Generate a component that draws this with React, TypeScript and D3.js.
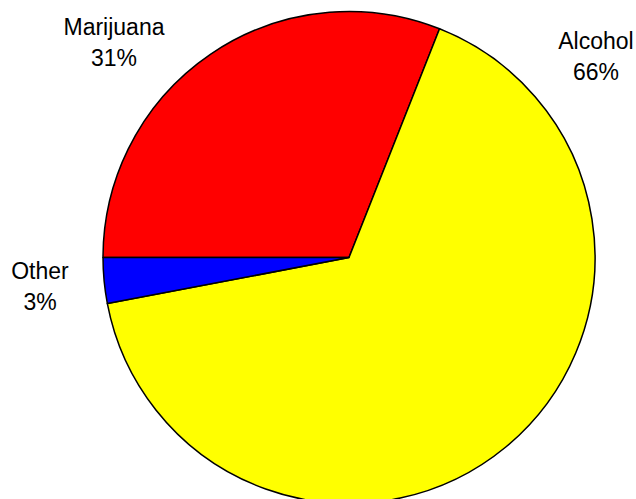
import React from "react";
import * as d3 from "d3";

const categories = ["Marijuana", "Alcohol", "Other"];
const values = [31, 66, 3];
const colors = ["#ff0000", "#ffff00", "#0000ff"];
const labels = ["31%", "66%", "3%"];

const W = 636;
const H = 499;
const cx = 349;
const cy = 257.5;
const R = 246;

// label anchor positions (center x, baseline y of first line)
const labelPos: [number, number][] = [
  [114, 35],
  [596, 49],
  [40, 279],
];

export default function App() {
  const pie = d3
    .pie<number>()
    .sort(null)
    .startAngle(-Math.PI / 2)
    .endAngle((3 * Math.PI) / 2)
    .value((d) => d);
  const arcs = pie(values);
  const arc = d3.arc<d3.PieArcDatum<number>>().innerRadius(0).outerRadius(R);
  return (
    <svg
      width={W}
      height={H}
      style={{ position: "absolute", left: 0, top: 0, background: "#fff" }}
    >
      <g transform={`translate(${cx},${cy})`}>
        {arcs.map((a, i) => (
          <path
            key={categories[i]}
            d={arc(a) || ""}
            fill={colors[i]}
            stroke="#000"
            strokeWidth={1.5}
            strokeLinejoin="round"
          />
        ))}
      </g>
      {categories.map((c, i) => (
        <text
          key={c}
          x={labelPos[i][0]}
          y={labelPos[i][1]}
          textAnchor="middle"
          fontFamily="Liberation Sans, Arial, sans-serif"
          fontSize={23}
          fill="#000"
        >
          <tspan x={labelPos[i][0]}>{c}</tspan>
          <tspan x={labelPos[i][0]} dy={31}>
            {labels[i]}
          </tspan>
        </text>
      ))}
    </svg>
  );
}
